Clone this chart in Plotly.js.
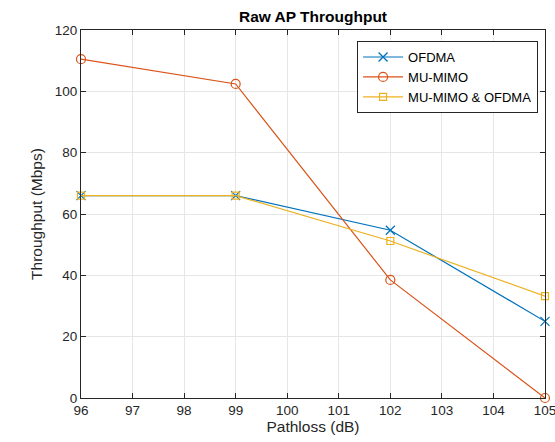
<!DOCTYPE html>
<html><head><meta charset="utf-8">
<script src="https://cdn.plot.ly/plotly-3.0.1.min.js"></script>
<style>html,body{margin:0;padding:0;background:#fff}#c{width:555px;height:442px}</style>
</head><body><div id="c"></div>
<script>
const pathloss = [96, 99, 102, 105];
const ofdma = [66, 66, 54.7, 25];
const mumimo = [110.5, 102.4, 38.5, 0];
const combined = [66, 66, 51.2, 33.2];
const seriesNames = ['OFDMA', 'MU-MIMO', 'MU-MIMO & OFDMA'];
const xTicks = [96,97,98,99,100,101,102,103,104,105];
const yTicks = [0,20,40,60,80,100,120];

const colors = ['#0072BD', '#D95319', '#EDB120'];
const symbols = ['x-thin-open', 'circle-open', 'square-open'];
const data = [ofdma, mumimo, combined].map((y, i) => ({
  x: pathloss, y: y, name: seriesNames[i], type: 'scatter', mode: 'lines+markers',
  line: {color: colors[i], width: 1.2},
  marker: {symbol: symbols[i], size: i === 2 ? 7 : 9, color: colors[i], line: {color: colors[i], width: 1.2}},
  cliponaxis: false
}));

const axisCommon = {
  showline: true, linecolor: '#262626', linewidth: 1, mirror: 'ticks',
  ticks: 'inside', ticklen: 5, tickcolor: '#262626', tickwidth: 1,
  showgrid: true, gridcolor: '#e6e6e6', gridwidth: 1, zeroline: false,
  ticklabeloverflow: 'allow',
  tickfont: {family: 'Liberation Sans, Arial, sans-serif', size: 13.5, color: '#262626'}
};

const layout = {
  width: 555, height: 442,
  margin: {l: 81, r: 10, t: 30, b: 44},
  paper_bgcolor: '#fff', plot_bgcolor: '#fff',
  font: {family: 'Liberation Sans, Arial, sans-serif', color: '#262626'},
  title: {text: '<b>Raw AP Throughput</b>', font: {size: 15.5, color: '#000'}, x: 0.5, xref: 'paper', xanchor: 'center', yref: 'container', y: 1 - 17/442, yanchor: 'middle'},
  xaxis: Object.assign({}, axisCommon, {
    range: [96, 105], tickvals: xTicks, ticktext: xTicks.map(String),
    title: {text: 'Pathloss (dB)', font: {size: 15.5, color: '#262626'}, standoff: 3}
  }),
  yaxis: Object.assign({}, axisCommon, {
    range: [0, 120], tickvals: yTicks, ticktext: yTicks.map(String),
    title: {text: 'Throughput (Mbps)', font: {size: 15.5, color: '#262626'}, standoff: 8}
  }),
  showlegend: true,
  legend: {x: 0.595, y: 0.97, xanchor: 'left', yanchor: 'top', bgcolor: '#fff',
    bordercolor: '#262626', borderwidth: 1, font: {size: 13, color: '#000'},
    tracegroupgap: 0, itemwidth: 40}
};

Plotly.newPlot('c', data, layout, {displayModeBar: false, staticPlot: true});
</script></body></html>
